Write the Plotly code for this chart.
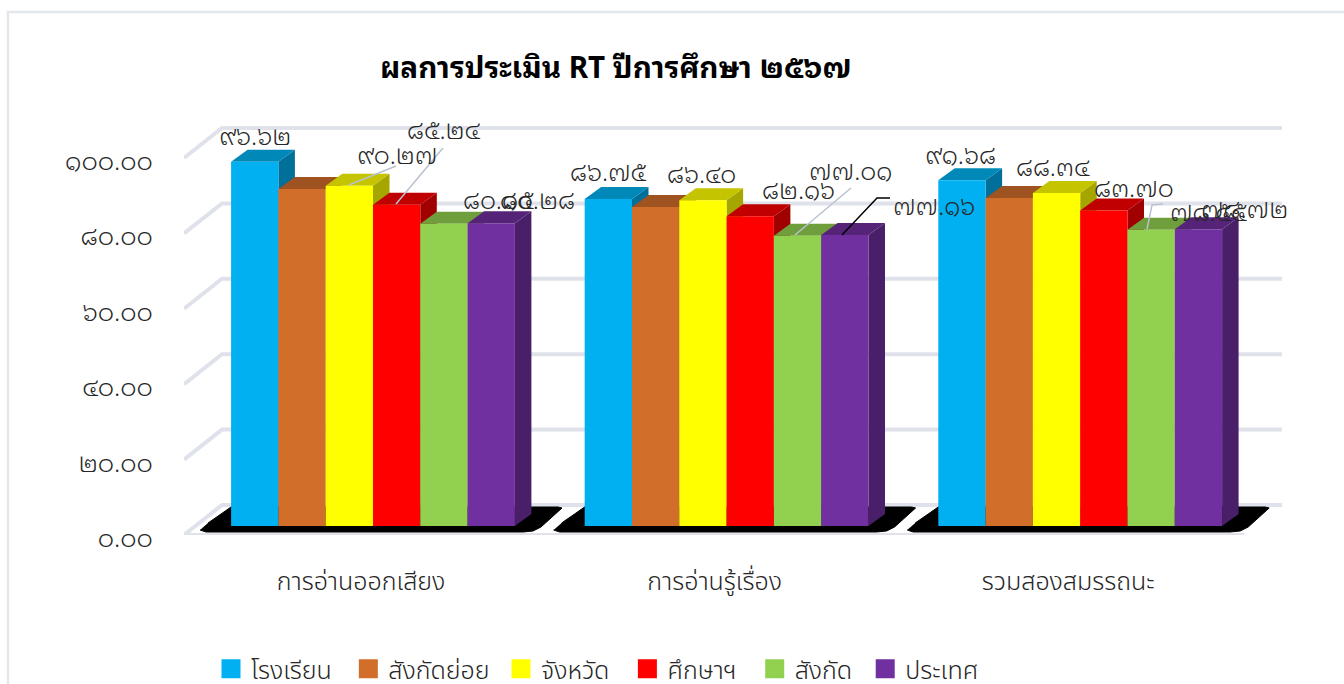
import plotly.graph_objects as go

categories = ["การอ่านออกเสียง", "การอ่านรู้เรื่อง", "รวมสองสมรรถนะ"]
series_names = ["โรงเรียน", "สังกัดย่อย", "จังหวัด", "ศึกษาฯ", "สังกัด", "ประเทศ"]
school = [96.62, 86.75, 91.68]
sub_area = [89.40, 84.60, 87.00]
province = [90.27, 86.40, 88.34]
education = [85.24, 82.16, 83.70]
area = [80.15, 77.01, 78.55]
country = [80.28, 77.16, 78.72]
series_values = [school, sub_area, province, education, area, country]
labelled = [True, False, True, True, True, True]
tick_values = [0, 20, 40, 60, 80, 100]
title_text = "ผลการประเมิน RT ปีการศึกษา ๒๕๖๗"

front = ["#00B0F0", "#D16E2A", "#FFFF00", "#FF0000", "#92D050", "#7030A0"]
top = ["#0088B8", "#9E5320", "#C4C400", "#C00000", "#6F9E3C", "#552479"]
side = ["#006F9A", "#85461B", "#A6A600", "#A00000", "#5E8533", "#481F68"]
WALL = "#DFE2EA"
FONT = "Noto Sans Thai, Noto Sans, DejaVu Sans"
DIGITS = "Noto Sans Thai Looped, Noto Sans, DejaVu Sans"
NB, THIN, HAIR = "\u00a0", "\u2009", "\u200a"
legend_pad = [NB + THIN, HAIR + THIN, NB + NB, HAIR + NB + THIN, NB + HAIR, ""]

W, H = 1344, 684
PL, PR, PT, PB = 184, 1282, 100, 535   # plot rectangle in pixels
GROUP_PX, UNIT_PX = 353.6, 3.77
BAR_PX = 47.3
DEPTH_X, DEPTH_Y = 16.5, 12.0          # bar depth in pixels
WALL_X, WALL_Y = 38.0, 30.0            # wall depth in pixels
TICK_CENTRE, BAR_CENTRE, BAR_ZERO = 361.0, 373.0, 526.0


def thai(v):
    return f"{v:.2f}".translate(str.maketrans("0123456789", "๐๑๒๓๔๕๖๗๘๙"))


def xrange_for(centre):
    return [(PL - centre) / GROUP_PX, (PR - centre) / GROUP_PX]


def yrange_for(zero):
    return [(zero - PB) / UNIT_PX, (zero - PT) / UNIT_PX]


fig = go.Figure()

# wall and floor, on the labelled axes
wx, wy = [], []
dx_w, dy_w = WALL_X / GROUP_PX, WALL_Y / UNIT_PX
x0 = xrange_for(TICK_CENTRE)[0]
x1 = xrange_for(TICK_CENTRE)[1]
for v in tick_values:
    wx += [x0, x0 + dx_w, x1, None]
    wy += [v, v + dy_w, v + dy_w, None]
wx += [x0, x1 - dx_w, None]
wy += [0, 0, None]
fig.add_trace(go.Scatter(x=wx, y=wy, mode="lines", line=dict(color=WALL, width=4),
                         showlegend=False, hoverinfo="skip", cliponaxis=False))

# shadows and 3D faces, on bar coordinates
bw = BAR_PX / GROUP_PX
ddx, ddy = DEPTH_X / GROUP_PX, DEPTH_Y / UNIT_PX
shadow_px = [(-173, -4), (-167, -6), (150, -6), (160, -5), (168, -1), (189, 18), (185, 19),
             (-142, 19), (-152, 12), (-165, 3)]
for g in range(3):
    fig.add_trace(go.Scatter(
        x=[g + p[0] / GROUP_PX for p in shadow_px],
        y=[p[1] / UNIT_PX for p in shadow_px],
        mode="lines", fill="toself", fillcolor="#000000", line=dict(color="#000000", width=1),
        xaxis="x2", yaxis="y2", showlegend=False, hoverinfo="skip"))
for s, vals in enumerate(series_values):
    for g, v in enumerate(vals):
        l = g + (s - 3) * bw
        r = l + bw
        fig.add_trace(go.Scatter(
            x=[r, r + ddx, r + ddx, r, r], y=[0, ddy, v + ddy, v, 0],
            mode="lines", fill="toself", fillcolor=side[s], line=dict(width=0),
            xaxis="x2", yaxis="y2", showlegend=False, hoverinfo="skip"))
        fig.add_trace(go.Scatter(
            x=[l, r, r + ddx, l + ddx, l], y=[v, v, v + ddy, v + ddy, v],
            mode="lines", fill="toself", fillcolor=top[s], line=dict(width=0),
            xaxis="x2", yaxis="y2", showlegend=False, hoverinfo="skip"))

# bar fronts
for s, vals in enumerate(series_values):
    fig.add_trace(go.Bar(x=list(range(3)), y=vals, name=series_names[s], xaxis="x3", yaxis="y3",
                         marker=dict(color=front[s], line=dict(width=0)), showlegend=False))

# legend keys
for s, name in enumerate(series_names):
    fig.add_trace(go.Scatter(x=[None], y=[None], name=name + legend_pad[s], mode="markers",
                             marker=dict(symbol="square", size=16, color=front[s],
                                         line=dict(color=front[s], width=3)),
                             xaxis="x3", yaxis="y3"))

# data labels: target centre in pixels
label_centres = [
    [(255, 134), (608, 170), (960, 153)],
    None,
    [(397, 153), (701, 172), (1053, 165)],
    [(444, 128), (798, 188), (1134, 186)],
    [(498, 198), (850, 169), (1208, 210)],
    [(537, 198), (934, 204), (1244, 207)],
]
ann = []
for s, vals in enumerate(series_values):
    if not labelled[s]:
        continue
    for g, v in enumerate(vals):
        bar_x = BAR_CENTRE + g * GROUP_PX + (s - 2.5) * BAR_PX
        bar_y = BAR_ZERO - v * UNIT_PX
        cx, cy = label_centres[s][g]
        ann.append(dict(x=g + (s - 2.5) * bw, y=v, xref="x3", yref="y3", text=thai(v),
                        showarrow=False, xshift=cx - bar_x, yshift=bar_y - cy,
                        font=dict(family=DIGITS, size=25, color="#262626", weight=300)))

# leader lines in pixels
leaders = [
    ([349, 396], [185, 166], "#B8C2D0"),
    ([396, 443], [204, 148], "#B8C2D0"),
    ([795, 851], [235, 188], "#B8C2D0"),
    ([842, 877, 890], [235, 198, 198], "#000000"),
    ([1147, 1152, 1163], [229, 205, 204], "#B8C2D0"),
]
shapes = [dict(type="rect", xref="paper", yref="paper", x0=(8 - PL) / (PR - PL), x1=(1400 - PL) / (PR - PL),
               y0=(PB - 720) / (PB - PT), y1=(PB - 12) / (PB - PT),
               line=dict(color="#E3E7EC", width=2.5), fillcolor="rgba(0,0,0,0)", layer="below")]
for xs, ys, c in leaders:
    path = "M" + " L".join(f"{(x - PL) / (PR - PL):.5f},{(PB - y) / (PB - PT):.5f}" for x, y in zip(xs, ys))
    shapes.append(dict(type="path", xref="paper", yref="paper", path=path, line=dict(color=c, width=1.5)))

ann.append(dict(xref="paper", yref="paper", x=(615.5 - PL) / (PR - PL), y=(PB - 39) / (PB - PT), showarrow=False,
                text=f"<b>{title_text}</b>", font=dict(family=DIGITS, size=29.6, color="#000000")))

fig.update_layout(
    width=W, height=H, margin=dict(l=PL, r=W - PR, t=PT, b=H - PB, autoexpand=False),
    paper_bgcolor="#FFFFFF", plot_bgcolor="rgba(0,0,0,0)",
    barmode="group", bargap=1 - 6 * bw, bargroupgap=0,
    shapes=shapes, annotations=ann,
    xaxis=dict(range=xrange_for(TICK_CENTRE), tickmode="array", tickvals=[0, 1, 2], ticktext=categories,
               showgrid=False, zeroline=False, showline=False, ticks="outside", ticklen=24, tickcolor="rgba(0,0,0,0)",
               tickfont=dict(family=FONT, size=25, color="#262626", weight=300)),
    yaxis=dict(range=yrange_for(PB), tickmode="array", tickvals=tick_values, ticktext=[thai(v) for v in tick_values],
               showgrid=False, zeroline=False, showline=False, ticks="outside", ticklen=25, tickcolor="rgba(0,0,0,0)",
               ticklabelshift=3,
               tickfont=dict(family=DIGITS, size=25.5, color="#262626", weight=300)),
    xaxis2=dict(range=xrange_for(BAR_CENTRE), overlaying="x", visible=False),
    yaxis2=dict(range=yrange_for(BAR_ZERO), overlaying="y", visible=False),
    xaxis3=dict(range=xrange_for(BAR_CENTRE), overlaying="x", visible=False),
    yaxis3=dict(range=yrange_for(BAR_ZERO), overlaying="y", visible=False),
    legend=dict(orientation="h", xref="paper", yref="paper", x=(211 - PL) / (PR - PL), xanchor="left",
                y=(PB - 646) / (PB - PT), yanchor="top", bgcolor="rgba(0,0,0,0)",
                font=dict(family=FONT, size=25, color="#262626", weight=300), itemsizing="trace"),
)

fig.write_html("out.html", config={"displayModeBar": False},
               post_script="document.body.style.margin='0';document.body.style.overflow='hidden';")
